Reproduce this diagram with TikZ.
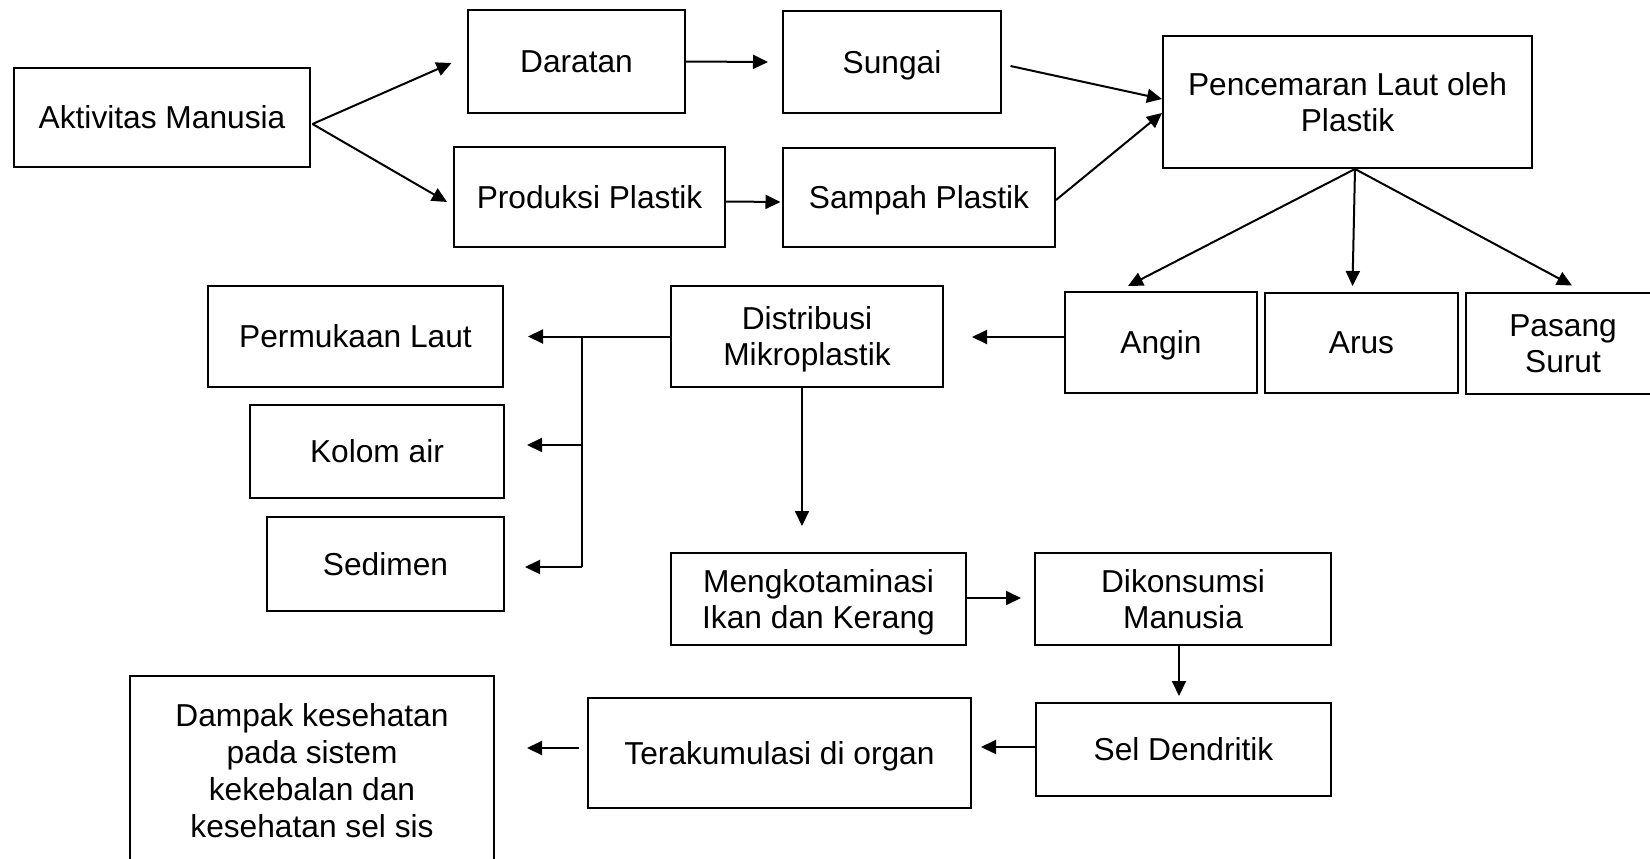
\documentclass[tikz,border=0pt]{standalone}
\usepackage{fontspec}
\setmainfont{Liberation Sans}
\usetikzlibrary{arrows.meta}
\begin{document}
\begin{tikzpicture}[x=1pt,y=-1pt,
  box/.style={draw, line width=2pt, inner sep=0pt, align=center, text depth=0pt, font=\fontsize{31.7}{36}\selectfont},
  arr/.style={line width=2pt, -{Triangle[length=15pt,width=14pt]}},
  thinline/.style={line width=1.2pt}]
\useasboundingbox (0,0) rectangle (1650,859);
\clip (0,0) rectangle (1650,859);
\node[box, minimum width=296pt, minimum height=99pt] (akt) at (162,117.5) {Aktivitas Manusia};
\node[box, minimum width=217pt, minimum height=103pt] (dar) at (576.5,61.5) {Daratan};
\node[box, minimum width=218pt, minimum height=102pt] (sun) at (892,62) {Sungai};
\node[box, minimum width=271pt, minimum height=100pt] (pro) at (589.5,197) {Produksi Plastik};
\node[box, minimum width=272pt, minimum height=99pt] (sam) at (919,197.5) {Sampah Plastik};
\node[box, minimum width=369pt, minimum height=132pt] (pen) at (1347.5,102) {Pencemaran Laut oleh\\Plastik};
\node[box, minimum width=192pt, minimum height=101pt] (ang) at (1161,342.5) {Angin};
\node[box, minimum width=193pt, minimum height=100pt] (aru) at (1361.5,343) {Arus};
\node[box, minimum width=194pt, minimum height=101pt] (pas) at (1563,343.5) {Pasang\\Surut};
\node[box, minimum width=272pt, minimum height=101pt] (dis) at (807,336.5) {Distribusi\\Mikroplastik};
\node[box, minimum width=295pt, minimum height=101pt] (per) at (355.5,336.5) {Permukaan Laut};
\node[box, minimum width=254pt, minimum height=93pt] (kol) at (377,451.5) {Kolom air};
\node[box, minimum width=237pt, minimum height=94pt] (sed) at (385.5,564) {Sedimen};
\node[box, minimum width=295pt, minimum height=92pt] (men) at (818.5,599) {Mengkotaminasi\\Ikan dan Kerang};
\node[box, minimum width=296pt, minimum height=92pt] (dik) at (1183,599) {Dikonsumsi\\Manusia};
\node[box, minimum width=295pt, minimum height=93pt] (sel) at (1183.5,749.5) {Sel Dendritik};
\node[box, minimum width=383pt, minimum height=110pt] (ter) at (779.5,753) {Terakumulasi di organ};
\node[box, minimum width=364pt, minimum height=190pt, font=\fontsize{31.7}{37}\selectfont] (dam) at (312,771) {Dampak kesehatan\\pada sistem\\kekebalan dan\\kesehatan sel sis};

\draw[arr] ([xshift=1.5pt,yshift=-6.5pt]akt.east) -- ([xshift=-15.5pt,yshift=-1.5pt]dar.west);
\draw[arr] ([xshift=1.5pt,yshift=-6.5pt]akt.east) -- ([xshift=-6pt,yshift=-5pt]pro.west);
\draw[arr] (dar.east) -- ([xshift=-14pt]sun.west);
\draw[arr, shorten >=1.5pt] ([yshift=-4.5pt]pro.east) -- ([yshift=-4.5pt]sam.west);
\draw[arr] ([xshift=8.5pt,yshift=-4pt]sun.east) -- ([yshift=3pt]pen.west);
\draw[arr] ([yshift=-2.5pt]sam.east) -- ([yshift=-11pt]pen.west);
\draw[arr] ([xshift=7.5pt]pen.south) -- ([xshift=-33pt,yshift=5pt]ang.north);
\draw[arr] ([xshift=7.5pt]pen.south) -- ([xshift=-9pt,yshift=6pt]aru.north);
\draw[arr] ([xshift=7.5pt]pen.south) -- ([xshift=9pt,yshift=6.5pt]pas.north);
\draw[arr] ([yshift=5.5pt]ang.west) -- ([xshift=28pt,yshift=-0.5pt]dis.east);
\draw[arr, shorten >=24pt] (dis.west) -- (per.east);
\coordinate (br) at (582,336.5);
\coordinate (brK) at (582,445);
\coordinate (brS) at (582,567);
\draw[thinline] (br) -- (brS);
\draw[arr, shorten >=22pt] (brK) -- (brK -| kol.east);
\draw[arr, shorten >=20pt] (brS) -- (brS -| sed.east);
\coordinate (d1) at ([xshift=-5pt]dis.south);
\draw[arr, shorten >=26pt] (d1) -- (d1 |- men.north);
\draw[arr, shorten >=13pt] ([yshift=1pt]men.east) -- ([yshift=1pt]dik.west);
\coordinate (d2) at ([xshift=-4pt]dik.south);
\draw[arr, shorten >=6pt] (d2) -- (d2 |- sel.north);
\coordinate (d3) at ([yshift=2.5pt]sel.west);
\draw[arr, shorten >=9pt] (d3) -- (d3 -| ter.east);
\coordinate (d4) at ([yshift=5pt]ter.west);
\draw[arr, shorten <=8pt, shorten >=32pt] (d4) -- (d4 -| dam.east);
\end{tikzpicture}
\end{document}
